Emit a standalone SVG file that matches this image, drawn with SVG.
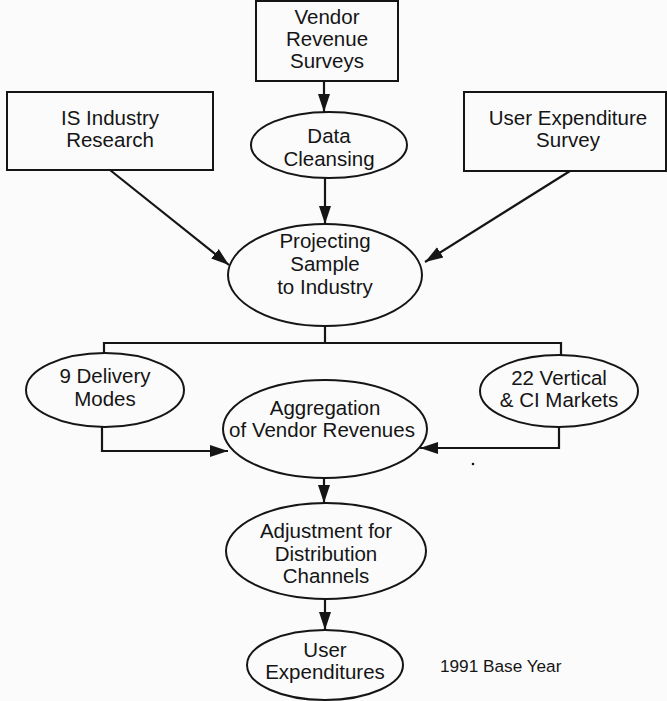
<svg xmlns="http://www.w3.org/2000/svg" width="667" height="701" viewBox="0 0 667 701">
  <style>
    .box { fill: none; stroke: #151515; stroke-width: 2; }
    .node { fill: none; stroke: #151515; stroke-width: 2; }
    .lbl { font-family: "Liberation Sans", Arial, sans-serif; font-size: 20.5px; fill: #151515; text-anchor: middle; }
    .note { font-family: "Liberation Sans", Arial, sans-serif; font-size: 17.2px; fill: #151515; }
    .wire { fill: none; stroke: #151515; stroke-width: 2.2; }
  </style>
  <defs>
    <marker id="arrow" markerUnits="userSpaceOnUse" markerWidth="20" markerHeight="14" refX="18" refY="7" orient="auto">
      <path d="M0,1 L18,7 L0,13 Z" fill="#151515"/>
    </marker>
  </defs>
  <rect width="667" height="701" fill="#fbfbfc"/>

  <g id="vendor-revenue-surveys">
    <rect class="box" x="256" y="1" width="142" height="80"/>
    <text class="lbl" x="327" y="24">Vendor</text>
    <text class="lbl" x="327" y="46">Revenue</text>
    <text class="lbl" x="327" y="68">Surveys</text>
  </g>

  <g id="is-industry-research">
    <rect class="box" x="7" y="92" width="206" height="78"/>
    <text class="lbl" x="110" y="125">IS Industry</text>
    <text class="lbl" x="110" y="147">Research</text>
  </g>

  <g id="user-expenditure-survey">
    <rect class="box" x="464" y="92" width="202" height="79"/>
    <text class="lbl" x="568" y="125">User Expenditure</text>
    <text class="lbl" x="568" y="147">Survey</text>
  </g>

  <g id="data-cleansing">
    <ellipse class="node" cx="329" cy="145" rx="78" ry="33"/>
    <text class="lbl" x="329" y="143">Data</text>
    <text class="lbl" x="329" y="166">Cleansing</text>
  </g>

  <g id="projecting-sample">
    <ellipse class="node" cx="325" cy="275" rx="97" ry="51"/>
    <text class="lbl" x="325" y="248">Projecting</text>
    <text class="lbl" x="325" y="271">Sample</text>
    <text class="lbl" x="325" y="294">to Industry</text>
  </g>

  <g id="delivery-modes">
    <ellipse class="node" cx="105" cy="390" rx="79" ry="37"/>
    <text class="lbl" x="105" y="383">9 Delivery</text>
    <text class="lbl" x="105" y="406">Modes</text>
  </g>

  <g id="vertical-markets">
    <ellipse class="node" cx="559" cy="391" rx="79" ry="36"/>
    <text class="lbl" x="559" y="385">22 Vertical</text>
    <text class="lbl" x="559" y="407">&amp; CI Markets</text>
  </g>

  <g id="aggregation">
    <ellipse class="node" cx="325" cy="429" rx="102" ry="49"/>
    <text class="lbl" x="325" y="415">Aggregation</text>
    <text class="lbl" x="322" y="437">of Vendor Revenues</text>
  </g>

  <g id="distribution-adjustment">
    <ellipse class="node" cx="326" cy="551" rx="100" ry="48"/>
    <text class="lbl" x="326" y="538">Adjustment for</text>
    <text class="lbl" x="326" y="561">Distribution</text>
    <text class="lbl" x="326" y="583">Channels</text>
  </g>

  <g id="user-expenditures">
    <ellipse class="node" cx="325" cy="665" rx="78" ry="35"/>
    <text class="lbl" x="325" y="657">User</text>
    <text class="lbl" x="325" y="679">Expenditures</text>
  </g>

  <text class="note" x="440" y="672">1991 Base Year</text>
  <circle cx="473" cy="464" r="1.3" fill="#151515"/>

  <g id="connectors">
    <line class="wire" x1="324" y1="81" x2="324" y2="112" marker-end="url(#arrow)"/>
    <line class="wire" x1="325" y1="178" x2="325" y2="224" marker-end="url(#arrow)"/>
    <line class="wire" x1="110" y1="170" x2="229" y2="265" marker-end="url(#arrow)"/>
    <line class="wire" x1="570" y1="171" x2="425" y2="262" marker-end="url(#arrow)"/>
    <polyline class="wire" points="325,326 325,343"/>
    <polyline class="wire" points="104,353 104,343 561,343 561,355"/>
    <polyline class="wire" points="102,427 102,451 228,451" marker-end="url(#arrow)"/>
    <polyline class="wire" points="559,427 559,448 420,448" marker-end="url(#arrow)"/>
    <line class="wire" x1="324" y1="478" x2="324" y2="503" marker-end="url(#arrow)"/>
    <line class="wire" x1="325" y1="599" x2="325" y2="630" marker-end="url(#arrow)"/>
  </g>
</svg>
